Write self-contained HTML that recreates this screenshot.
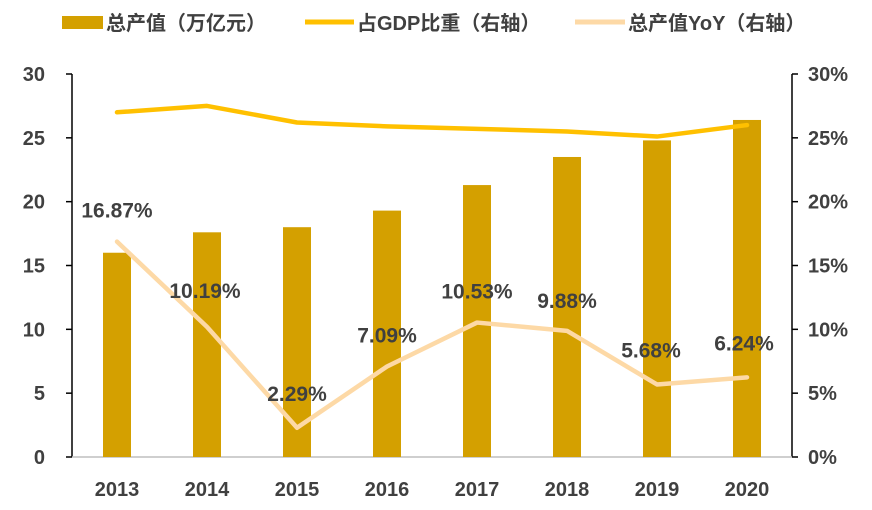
<!DOCTYPE html>
<html><head><meta charset="utf-8"><style>
body{margin:0;background:#fff;width:872px;height:505px;overflow:hidden}
svg text{font-family:"Liberation Sans","Noto Sans CJK SC",sans-serif;font-weight:bold;fill:#404040}
</style></head><body>
<svg id="chart" width="872" height="505"></svg>
<script>
const years=["2013","2014","2015","2016","2017","2018","2019","2020"];
const output=[16.0,17.6,18.0,19.3,21.3,23.5,24.8,26.4];
const gdpShare=[27.0,27.5,26.2,25.9,25.7,25.5,25.1,26.0];
const yoy=[16.87,10.19,2.29,7.09,10.53,9.88,5.68,6.24];
const leftTicks=[0,5,10,15,20,25,30];
const rightTicks=[0,5,10,15,20,25,30];
const NS="http://www.w3.org/2000/svg";
const svg=document.getElementById('chart');
const X0=72,X1=792,Y0=457,Y1=74;
const step=(X1-X0)/years.length;
function xc(i){return X0+step*(i+0.5);}
function yl(v){return Y0-(v/30)*(Y0-Y1);}
function yr(v){return Y0-(v/30)*(Y0-Y1);}
function mk(t,a){const e=document.createElementNS(NS,t);for(const k in a)e.setAttribute(k,a[k]);svg.appendChild(e);return e;}
// legend
let e=mk('rect',{x:62,y:16,width:41,height:13,fill:'#D4A000'});

e=mk('text',{x:106,y:30,'font-size':20});e.textContent='总产值（万亿元）';

e=mk('line',{x1:305,y1:22,x2:354,y2:22,stroke:'#FFC000','stroke-width':5});

e=mk('text',{x:357,y:30,'font-size':20});e.textContent='占GDP比重（右轴）';

e=mk('line',{x1:575,y1:22,x2:625,y2:22,stroke:'#FDD9A6','stroke-width':5});

e=mk('text',{x:628,y:30,'font-size':20});e.textContent='总产值YoY（右轴）';

// axes
e=mk('line',{x1:X0,y1:Y1,x2:X0,y2:Y0,stroke:'#000','stroke-width':1.5});

e=mk('line',{x1:X1,y1:Y1,x2:X1,y2:Y0,stroke:'#000','stroke-width':1.5});

e=mk('line',{x1:X0,y1:Y0,x2:X1,y2:Y0,stroke:'#bfbfbf','stroke-width':1.5});

leftTicks.forEach(v=>{
 e=mk('line',{x1:X0-6,y1:yl(v),x2:X0,y2:yl(v),stroke:'#000','stroke-width':1.5});
 
 e=mk('text',{x:45,y:yl(v)+7,'font-size':20,'text-anchor':'end'});e.textContent=v;
 
});
rightTicks.forEach(v=>{
 e=mk('line',{x1:X1,y1:yr(v),x2:X1+6,y2:yr(v),stroke:'#000','stroke-width':1.5});
 
 e=mk('text',{x:808,y:yr(v)+7,'font-size':20});e.textContent=v+'%';
 
});
// bars
years.forEach((y,i)=>{
 e=mk('rect',{x:xc(i)-14,y:yl(output[i]),width:28,height:Y0-yl(output[i]),fill:'#D4A000'});
 
 e=mk('text',{x:xc(i),y:496,'font-size':20,'text-anchor':'middle'});e.textContent=y;
 
});
// lines
e=mk('polyline',{points:gdpShare.map((v,i)=>xc(i)+','+yr(v)).join(' '),fill:'none',stroke:'#FFC000','stroke-width':4.5,'stroke-linejoin':'round','stroke-linecap':'round'});

e=mk('polyline',{points:yoy.map((v,i)=>xc(i)+','+yr(v)).join(' '),fill:'none',stroke:'#FDD9A6','stroke-width':4.5,'stroke-linejoin':'round','stroke-linecap':'round'});

const lblDx=[0,-2,0,0,0,0,-6,-3];
const lblDy=[-32,-37,-35,-32,-32,-31,-35,-35];
yoy.forEach((v,i)=>{
 e=mk('text',{x:xc(i)+lblDx[i],y:yr(v)+lblDy[i]+8,'font-size':21,'text-anchor':'middle'});
 e.textContent=v.toFixed(2)+'%';
 
});
</script>
</body></html>
